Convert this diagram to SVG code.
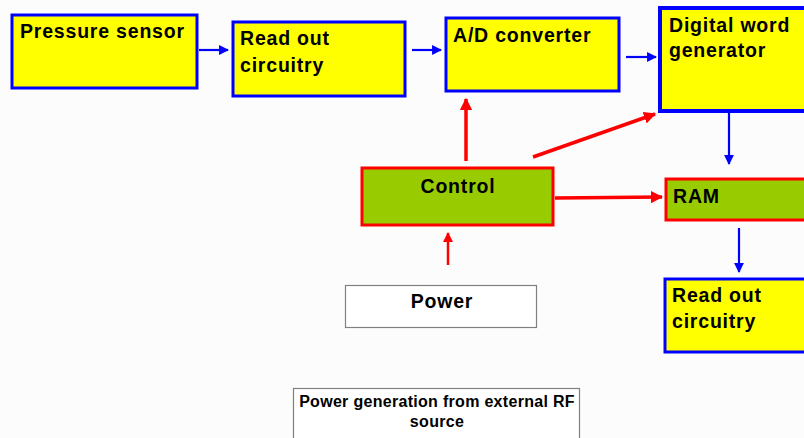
<svg xmlns="http://www.w3.org/2000/svg" width="804" height="438" viewBox="0 0 804 438">
  <style>
    .blk { fill: #ffff00; stroke: #0000ff; stroke-width: 3; }
    .ctl { fill: #99cc00; stroke: #ff0000; stroke-width: 3; }
    .plain { fill: #ffffff; stroke: #808080; stroke-width: 1.2; }
    .t { font-family: "Liberation Sans", Arial, sans-serif; font-weight: bold; font-size: 19.5px; letter-spacing: 0.8px; fill: #000000; }
    .ts { font-family: "Liberation Sans", Arial, sans-serif; font-weight: bold; font-size: 16px; letter-spacing: 0.3px; fill: #000000; }
    .blue { stroke: #0000ff; stroke-width: 2.2; fill: none; marker-end: url(#ahBlue); }
    .red { stroke: #ff0000; stroke-width: 3.5; fill: none; marker-end: url(#ahRed); }
    .redThin { stroke: #ff0000; stroke-width: 2.5; fill: none; marker-end: url(#ahRedS); }
  </style>
  <defs>
    <marker id="ahBlue" viewBox="0 0 10 10" refX="9" refY="5" markerWidth="4.5" markerHeight="4.5" orient="auto" markerUnits="strokeWidth">
      <path d="M0,0 L10,5 L0,10 Z" fill="#0000ff"/>
    </marker>
    <marker id="ahRed" viewBox="0 0 10 10" refX="9" refY="5" markerWidth="3.5" markerHeight="3.5" orient="auto" markerUnits="strokeWidth">
      <path d="M0,0 L10,5 L0,10 Z" fill="#ff0000"/>
    </marker>
    <marker id="ahRedS" viewBox="0 0 10 10" refX="9" refY="5" markerWidth="4" markerHeight="4" orient="auto" markerUnits="strokeWidth">
      <path d="M0,0 L10,5 L0,10 Z" fill="#ff0000"/>
    </marker>
  </defs>

  <rect x="0" y="0" width="804" height="438" fill="#fcfcfc"/>

  <g id="pressure-sensor">
    <rect class="blk" x="12" y="15" width="185" height="73"/>
    <text class="t" x="20" y="38">Pressure sensor</text>
  </g>

  <g id="readout-1">
    <rect class="blk" x="233" y="22" width="172" height="74"/>
    <text class="t" x="240" y="45">Read out</text>
    <text class="t" x="240" y="72">circuitry</text>
  </g>

  <g id="ad-converter">
    <rect class="blk" x="446" y="18" width="173" height="73"/>
    <text class="t" x="453" y="42">A/D converter</text>
  </g>

  <g id="digital-word-generator">
    <rect class="blk" x="660" y="8" width="150" height="103" style="stroke-width:4"/>
    <text class="t" x="669" y="32">Digital word</text>
    <text class="t" x="669" y="57">generator</text>
  </g>

  <g id="control">
    <rect class="ctl" x="362" y="168" width="191" height="57"/>
    <text class="t" x="458" y="193" text-anchor="middle">Control</text>
  </g>

  <g id="ram">
    <rect class="ctl" x="666" y="179" width="145" height="41"/>
    <text class="t" x="673" y="203">RAM</text>
  </g>

  <g id="readout-2">
    <rect class="blk" x="665" y="279" width="145" height="73"/>
    <text class="t" x="672" y="302">Read out</text>
    <text class="t" x="672" y="328">circuitry</text>
  </g>

  <g id="power">
    <rect class="plain" x="345.5" y="285.5" width="191" height="42"/>
    <text class="t" x="442" y="308" text-anchor="middle">Power</text>
  </g>

  <g id="rf-source">
    <rect class="plain" x="293.5" y="388.5" width="286" height="60"/>
    <text class="ts" x="437" y="407" text-anchor="middle">Power generation from external RF</text>
    <text class="ts" x="437" y="427" text-anchor="middle">source</text>
  </g>

  <g id="connectors">
    <line class="blue" x1="199" y1="50" x2="228" y2="50"/>
    <line class="blue" x1="412" y1="50" x2="441" y2="50"/>
    <line class="blue" x1="626" y1="57" x2="656" y2="57"/>
    <line class="blue" x1="729" y1="113" x2="729" y2="164"/>
    <line class="blue" x1="739" y1="228" x2="739" y2="272"/>
    <line class="red" x1="466" y1="161" x2="466" y2="99"/>
    <line class="red" x1="533" y1="157" x2="655" y2="114"/>
    <line class="red" x1="555" y1="198" x2="662" y2="197"/>
    <line class="redThin" x1="448" y1="265" x2="448" y2="233"/>
  </g>
</svg>
